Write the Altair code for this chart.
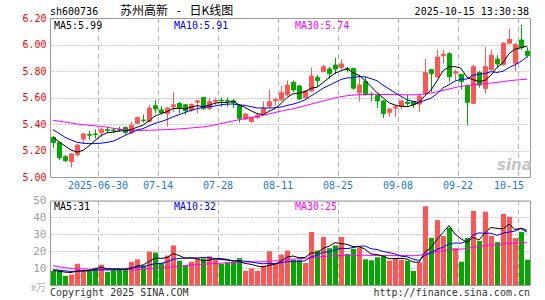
import altair as alt
import pandas as pd

RED = "#ff5555"
GREEN = "#00a800"
MONO = "DejaVu Sans Mono"
CJK = "Noto Sans CJK SC"
DATE_BLUE = "#1a78d0"

opens = [5.30, 5.26, 5.153, 5.116, 5.17, 5.287, 5.32, 5.325, 5.335, 5.358,
         5.355, 5.36, 5.375, 5.335, 5.405, 5.43, 5.42, 5.538, 5.506, 5.48,
         5.53, 5.556, 5.545, 5.505, 5.565, 5.60, 5.518, 5.57, 5.58, 5.578,
         5.575, 5.54, 5.438, 5.418, 5.448, 5.475, 5.535, 5.575, 5.586, 5.62,
         5.714, 5.687, 5.599, 5.649, 5.75, 5.795, 5.815, 5.845, 5.828, 5.82,
         5.82, 5.636, 5.72, 5.625, 5.614, 5.574, 5.488, 5.52, 5.531, 5.565,
         5.57, 5.55, 5.63, 5.81, 5.755, 5.915, 5.93, 5.785, 5.775, 5.687,
         5.556, 5.79, 5.669, 5.81, 5.89, 5.85, 6.01, 5.858, 6.034, 5.95]
highs = [5.31, 5.265, 5.165, 5.18, 5.25, 5.33, 5.35, 5.36, 5.37, 5.38,
         5.37, 5.38, 5.38, 5.415, 5.455, 5.47, 5.545, 5.58, 5.535, 5.53,
         5.64, 5.565, 5.55, 5.555, 5.58, 5.605, 5.60, 5.60, 5.60, 5.60,
         5.59, 5.545, 5.485, 5.455, 5.48, 5.57, 5.66, 5.60, 5.687, 5.727,
         5.73, 5.695, 5.655, 5.825, 5.77, 5.845, 5.83, 5.90, 5.89, 5.83,
         5.825, 5.77, 5.755, 5.64, 5.62, 5.58, 5.52, 5.535, 5.58, 5.62,
         5.575, 5.62, 5.89, 5.815, 5.96, 5.96, 5.94, 5.81, 5.78, 5.69,
         5.845, 5.80, 5.98, 5.96, 5.92, 6.015, 6.12, 6.01, 6.147, 5.98]
lows = [5.22, 5.13, 5.115, 5.073, 5.155, 5.25, 5.28, 5.29, 5.30, 5.34,
        5.33, 5.34, 5.32, 5.325, 5.40, 5.41, 5.415, 5.48, 5.47, 5.38,
        5.49, 5.48, 5.47, 5.49, 5.48, 5.505, 5.505, 5.545, 5.53, 5.53,
        5.52, 5.41, 5.43, 5.41, 5.44, 5.47, 5.52, 5.54, 5.57, 5.61,
        5.64, 5.58, 5.59, 5.645, 5.68, 5.79, 5.74, 5.78, 5.81, 5.79,
        5.66, 5.57, 5.615, 5.57, 5.52, 5.445, 5.455, 5.455, 5.51, 5.53,
        5.52, 5.49, 5.615, 5.64, 5.75, 5.855, 5.72, 5.73, 5.66, 5.39,
        5.55, 5.675, 5.63, 5.80, 5.82, 5.84, 6.00, 5.80, 5.96, 5.90]
closes = [5.26, 5.145, 5.123, 5.174, 5.24, 5.325, 5.315, 5.32, 5.36, 5.352,
          5.35, 5.355, 5.335, 5.39, 5.45, 5.425, 5.52, 5.513, 5.486, 5.52,
          5.545, 5.52, 5.50, 5.548, 5.575, 5.518, 5.568, 5.578, 5.575, 5.572,
          5.56, 5.443, 5.475, 5.45, 5.465, 5.518, 5.568, 5.585, 5.636, 5.694,
          5.657, 5.589, 5.649, 5.762, 5.727, 5.833, 5.78, 5.815, 5.853, 5.81,
          5.67, 5.694, 5.62, 5.62, 5.574, 5.48, 5.513, 5.53, 5.574, 5.555,
          5.545, 5.61, 5.79, 5.78, 5.906, 5.925, 5.757, 5.795, 5.72, 5.564,
          5.833, 5.694, 5.833, 5.92, 5.853, 6.01, 6.04, 6.0, 5.976, 5.916]
volumes = [8.4, 8.4, 5.4, 6.2, 12.6, 9.0, 9.2, 10.2, 12.0, 7.8,
           8.8, 9.2, 9.2, 13.8, 15.2, 11.6, 19.8, 19.2, 13.0, 17.4,
           23.4, 14.4, 11.4, 13.8, 15.6, 15.8, 17.0, 15.0, 12.4, 13.4,
           13.8, 15.8, 8.4, 9.8, 8.4, 11.4, 20.0, 12.4, 18.0, 20.4,
           15.0, 15.0, 13.0, 31.4, 20.4, 28.4, 21.8, 23.4, 28.4, 18.4,
           21.4, 22.4, 15.2, 14.6, 16.4, 17.0, 14.4, 16.0, 15.0, 14.4,
           8.4, 13.4, 46.6, 27.8, 38.4, 29.0, 33.8, 21.8, 13.8, 27.8,
           43.8, 26.0, 43.4, 29.0, 25.4, 42.0, 40.4, 27.8, 31.4, 15.0]
ma5 = [5.30, 5.267, 5.234, 5.204, 5.188, 5.201, 5.235, 5.275, 5.312, 5.334,
       5.339, 5.347, 5.350, 5.356, 5.376, 5.391, 5.424, 5.460, 5.479, 5.493,
       5.517, 5.517, 5.514, 5.527, 5.538, 5.532, 5.542, 5.557, 5.563, 5.562,
       5.571, 5.546, 5.525, 5.500, 5.479, 5.470, 5.495, 5.517, 5.554, 5.600,
       5.628, 5.632, 5.645, 5.670, 5.677, 5.712, 5.750, 5.783, 5.802, 5.818,
       5.786, 5.768, 5.729, 5.683, 5.636, 5.598, 5.561, 5.543, 5.534, 5.530,
       5.543, 5.563, 5.615, 5.656, 5.726, 5.802, 5.832, 5.833, 5.821, 5.752,
       5.734, 5.721, 5.729, 5.769, 5.827, 5.862, 5.931, 5.965, 5.976, 5.988]
ma10 = [5.357, 5.33, 5.30, 5.28, 5.262, 5.255, 5.252, 5.252, 5.255, 5.261,
        5.270, 5.291, 5.313, 5.334, 5.355, 5.365, 5.386, 5.405, 5.418, 5.434,
        5.454, 5.470, 5.487, 5.503, 5.515, 5.525, 5.529, 5.536, 5.545, 5.550,
        5.551, 5.544, 5.541, 5.531, 5.521, 5.521, 5.521, 5.522, 5.528, 5.540,
        5.550, 5.564, 5.582, 5.612, 5.639, 5.670, 5.691, 5.714, 5.736, 5.748,
        5.749, 5.759, 5.756, 5.742, 5.727, 5.692, 5.665, 5.636, 5.609, 5.583,
        5.571, 5.562, 5.579, 5.595, 5.628, 5.673, 5.697, 5.724, 5.738, 5.739,
        5.768, 5.776, 5.781, 5.795, 5.789, 5.798, 5.826, 5.847, 5.872, 5.908]
ma30 = [5.428, 5.422, 5.415, 5.408, 5.400, 5.395, 5.390, 5.386, 5.382, 5.376,
        5.368, 5.362, 5.357, 5.354, 5.352, 5.352, 5.353, 5.354, 5.356, 5.358,
        5.360, 5.363, 5.366, 5.370, 5.374, 5.378, 5.385, 5.394, 5.403, 5.413,
        5.423, 5.432, 5.440, 5.448, 5.456, 5.465, 5.476, 5.487, 5.497, 5.507,
        5.515, 5.526, 5.538, 5.550, 5.562, 5.573, 5.585, 5.597, 5.606, 5.613,
        5.618, 5.621, 5.623, 5.624, 5.624, 5.623, 5.622, 5.622, 5.622, 5.620,
        5.620, 5.622, 5.627, 5.634, 5.643, 5.653, 5.664, 5.675, 5.684, 5.690,
        5.695, 5.700, 5.705, 5.709, 5.714, 5.720, 5.726, 5.731, 5.735, 5.738]
vma5 = [8.6, 8.2, 7.6, 7.4, 8.2, 8.32, 8.48, 9.44, 10.6, 9.64,
        9.6, 9.6, 9.4, 9.76, 11.24, 11.8, 13.92, 15.92, 15.76, 16.2,
        18.56, 17.48, 15.92, 16.08, 15.72, 14.2, 14.72, 15.44, 15.16, 14.72,
        14.32, 14.08, 12.76, 12.24, 11.24, 10.76, 11.6, 12.4, 14.04, 16.44,
        17.16, 16.16, 16.28, 18.96, 18.96, 21.64, 23.0, 25.08, 24.48, 24.08,
        22.68, 22.8, 21.16, 18.4, 18.0, 17.12, 15.52, 15.68, 15.76, 15.36,
        13.64, 13.44, 19.56, 22.12, 26.92, 31.04, 35.12, 30.16, 27.36, 25.24,
        28.2, 26.64, 30.96, 34.0, 33.52, 33.16, 36.04, 32.92, 33.4, 31.32]
vma10 = [9.0, 8.8, 8.4, 8.0, 8.2, 8.4, 8.6, 8.8, 9.0, 8.92,
         8.96, 9.04, 9.42, 10.18, 10.44, 10.7, 11.76, 12.66, 12.76, 13.72,
         15.18, 15.7, 15.92, 15.92, 15.96, 16.38, 16.1, 15.68, 15.62, 15.22,
         14.26, 14.4, 14.1, 13.7, 12.98, 12.54, 12.84, 12.58, 13.14, 13.84,
         13.96, 13.88, 14.34, 16.5, 17.7, 19.4, 19.58, 20.68, 21.72, 21.52,
         22.16, 22.9, 23.12, 21.44, 21.04, 19.9, 19.16, 18.42, 17.08, 16.68,
         15.38, 14.48, 17.62, 18.94, 21.14, 22.34, 24.28, 24.86, 24.74, 26.08,
         29.62, 30.88, 30.56, 30.68, 29.38, 30.68, 31.34, 31.94, 33.7, 32.42]
vma30 = [11.4, 10.8, 10.2, 9.8, 9.6, 9.5, 9.4, 9.4, 9.4, 9.3,
         9.2, 9.1, 9.0, 9.0, 9.1, 9.3, 9.6, 9.9, 10.1, 10.4,
         10.8, 11.2, 11.5, 11.8, 12.1, 12.3, 12.5, 12.7, 12.9, 13.1,
         13.3, 13.5, 13.6, 13.7, 13.7, 13.8, 14.1, 14.3, 14.6, 15.0,
         15.3, 15.6, 15.8, 16.2, 16.5, 16.9, 17.1, 17.3, 17.5, 17.6,
         17.6, 17.6, 17.6, 17.5, 17.5, 17.5, 17.4, 17.4, 17.4, 17.4,
         17.3, 17.5, 18.5, 19.0, 19.8, 20.3, 20.9, 21.1, 21.2, 21.6,
         22.4, 22.7, 23.4, 23.6, 23.8, 24.3, 24.6, 24.8, 25.0, 25.0]

tick_labels = ["2025-06-30", "07-14", "07-28", "08-11", "08-25", "09-08", "09-22", "10-15"]
tick_pos = [8, 18, 28, 38, 48, 58, 68, 76.5]
grid_pos = [8, 18, 28, 38, 48, 58, 68, 78]
price_ticks = [5.0, 5.2, 5.4, 5.6, 5.8, 6.0, 6.2]
vol_ticks = [10, 20, 30, 40, 50]

n = len(closes)
df = pd.DataFrame({
    "i": list(range(n)),
    "open": opens, "high": highs, "low": lows, "close": closes,
    "vol": volumes,
    "ma5": ma5, "ma10": ma10, "ma30": ma30,
    "vma5": vma5, "vma10": vma10, "vma30": vma30,
})
df["dir"] = ["up" if c >= o else "down" for o, c in zip(opens, closes)]
df["xc"] = df["i"] + 0.5
df["xb0"] = df["i"] + 0.25
df["xb1"] = df["i"] + 11 / 12
df["xv0"] = df["i"] + 1 / 6
df["xv1"] = df["i"] + 1.0


def XS():
    return alt.Scale(domain=[0, n], nice=False, zero=False)


def PY():
    return alt.Scale(domain=[5.0, 6.2], range=[159, 0], nice=False, zero=False)


def VY():
    return alt.Scale(domain=[0, 50], range=[267, 182.5], nice=False, zero=False)


col_scale = alt.Scale(domain=["up", "down"], range=[RED, GREEN])

price_axis = alt.Axis(values=price_ticks, format=".2f", orient="left", title=None,
                      labelColor="#ff0000", labelFont=MONO, labelFontSize=10,
                      ticks=False, domain=False, labelPadding=4, labelOverlap=False,
                      labelFlush=False,
                      grid=True, gridColor="#a0a0a0", gridDash=[1, 2], gridWidth=1)
vol_axis = alt.Axis(values=vol_ticks, format="d", orient="left", title=None,
                    labelColor="#a0a0a0", labelFont=MONO, labelFontSize=11,
                    ticks=False, domain=False, labelPadding=4, labelOverlap=False,
                    labelFlush=False,
                    grid=True, gridColor="#a0a0a0", gridDash=[1, 2], gridWidth=1)

grid_df = pd.DataFrame({"g": grid_pos})
one = pd.DataFrame({"k": [0]})
base = alt.Chart(df)

# ---- price panel ----
vgrid_p = alt.Chart(grid_df).mark_rule(color="#b4b4b4", strokeDash=[5, 4], xOffset=0.5).encode(
    x=alt.X("g:Q", scale=XS(), axis=None),
    y=alt.YDatum(6.2, type="quantitative", scale=PY(), axis=None),
    y2=alt.Y2Datum(5.0),
)
price_axis_layer = alt.Chart(pd.DataFrame({"p": price_ticks})).mark_point(opacity=0).encode(
    x=alt.XDatum(0, type="quantitative", scale=XS(), axis=None),
    y=alt.Y("p:Q", scale=PY(), axis=price_axis),
)
wick = base.mark_rule(strokeWidth=1, xOffset=0.5).encode(
    x=alt.X("xc:Q", scale=XS(), axis=None),
    y=alt.Y("low:Q", scale=PY(), axis=None),
    y2="high:Q",
    color=alt.Color("dir:N", scale=col_scale, legend=None),
)
body = base.mark_rect(strokeWidth=1).encode(
    x=alt.X("xb0:Q", scale=XS(), axis=None),
    x2="xb1:Q",
    y=alt.Y("open:Q", scale=PY(), axis=None),
    y2="close:Q",
    color=alt.Color("dir:N", scale=col_scale, legend=None),
    stroke=alt.Stroke("dir:N", scale=col_scale, legend=None),
)


def pline(field, color, scale):
    return base.mark_line(color=color, strokeWidth=1).encode(
        x=alt.X("xc:Q", scale=XS(), axis=None),
        y=alt.Y(f"{field}:Q", scale=scale, axis=None),
    )


border_p = alt.Chart(one).mark_rect(fillOpacity=0, stroke="#999999", strokeWidth=1,
                                    xOffset=0.5, x2Offset=0.5, yOffset=0.5, y2Offset=0.5).encode(
    x=alt.XDatum(0, type="quantitative", scale=XS(), axis=None),
    x2=alt.X2Datum(n),
    y=alt.YDatum(6.2, type="quantitative", scale=PY(), axis=None),
    y2=alt.Y2Datum(5.0),
)

# ---- volume panel ----
vgrid_v = alt.Chart(grid_df).mark_rule(color="#b4b4b4", strokeDash=[5, 4], xOffset=0.5).encode(
    x=alt.X("g:Q", scale=XS(), axis=None),
    y=alt.YDatum(50, type="quantitative", scale=VY(), axis=None),
    y2=alt.Y2Datum(0),
)
vol_axis_layer = alt.Chart(pd.DataFrame({"v": vol_ticks})).mark_point(opacity=0).encode(
    x=alt.XDatum(0, type="quantitative", scale=XS(), axis=None),
    y=alt.Y("v:Q", scale=VY(), axis=vol_axis),
)
vbars = base.mark_rect().encode(
    x=alt.X("xv0:Q", scale=XS(), axis=None),
    x2="xv1:Q",
    y=alt.Y("vol:Q", scale=VY(), axis=None),
    y2=alt.Y2Datum(0),
    color=alt.Color("dir:N", scale=col_scale, legend=None),
)
border_v = alt.Chart(one).mark_rect(fillOpacity=0, stroke="#999999", strokeWidth=1,
                                    xOffset=0.5, x2Offset=0.5, yOffset=0.5, y2Offset=0.5).encode(
    x=alt.XDatum(0, type="quantitative", scale=XS(), axis=None),
    x2=alt.X2Datum(n),
    y=alt.YDatum(50, type="quantitative", scale=VY(), axis=None),
    y2=alt.Y2Datum(0),
)

# ---- date labels ----
dates = alt.Chart(pd.DataFrame({"pos": tick_pos, "lab": tick_labels})).mark_text(
    font=MONO, fontSize=10, color=DATE_BLUE, align="center", baseline="alphabetic"
).encode(x=alt.X("pos:Q", scale=XS(), axis=None), y=alt.value(171.3), text="lab:N")


def label(txt, x, y, color="#000000", align="left", size=10, font=MONO, **kw):
    return alt.Chart(pd.DataFrame({"t": [txt]})).mark_text(
        align=align, baseline="alphabetic", font=font, fontSize=size, color=color, **kw
    ).encode(x=alt.value(x), y=alt.value(y), text="t:N")


SP = "\u2002\u00a0"
texts = [
    label("sh600736", 0, -3),
    label("苏州高新" + SP + "-" + SP + "日K线图", 70, -3, size=12, font=CJK),
    label("2025-10-15 13:30:38", 479, -3, align="right"),
    label(f"MA5:{ma5[-1]:.2f}", 4, 10.5),
    label(f"MA10:{ma10[-1]:.2f}", 124, 10.5, color="#0000ff"),
    label(f"MA30:{ma30[-1]:.2f}", 245, 10.5, color="#ff00ff"),
    label(f"MA5:{vma5[-1]:.0f}", 4, 192),
    label(f"MA10:{vma10[-1]:.0f}", 124, 192, color="#0000ff"),
    label(f"MA30:{vma30[-1]:.0f}", 245, 192, color="#ff00ff"),
    label("x万", -4, 273, color="#b0b0b0", align="right", size=10, font=CJK),
    label("Copyright 2025 SINA.COM", 0, 278, color="#333333"),
    label("http://finance.sina.com.cn", 480, 278, color="#333333", align="right"),
    label("sina", 447, 152, color="#c4c4c4", size=15, font="DejaVu Sans",
          fontStyle="italic", fontWeight="bold"),
]

layers = [
    price_axis_layer, vgrid_p, wick, body,
    pline("ma30", "#ff00ff", PY()), pline("ma10", "#0000ff", PY()),
    pline("ma5", "#000000", PY()), border_p,
    vol_axis_layer, vgrid_v, vbars,
    pline("vma30", "#ff00ff", VY()), pline("vma10", "#0000ff", VY()),
    pline("vma5", "#000000", VY()), border_v,
    dates,
] + texts

chart = alt.layer(*layers).resolve_scale(
    y="independent"
).properties(
    width=480, height=267,
    padding={"left": 50, "top": 18, "right": 15, "bottom": 15},
    autosize=alt.AutoSizeParams(type="none"),
    background="#ffffff",
).configure_view(strokeWidth=0)

chart.save("out.html", embed_options={"renderer": "svg", "actions": False})
